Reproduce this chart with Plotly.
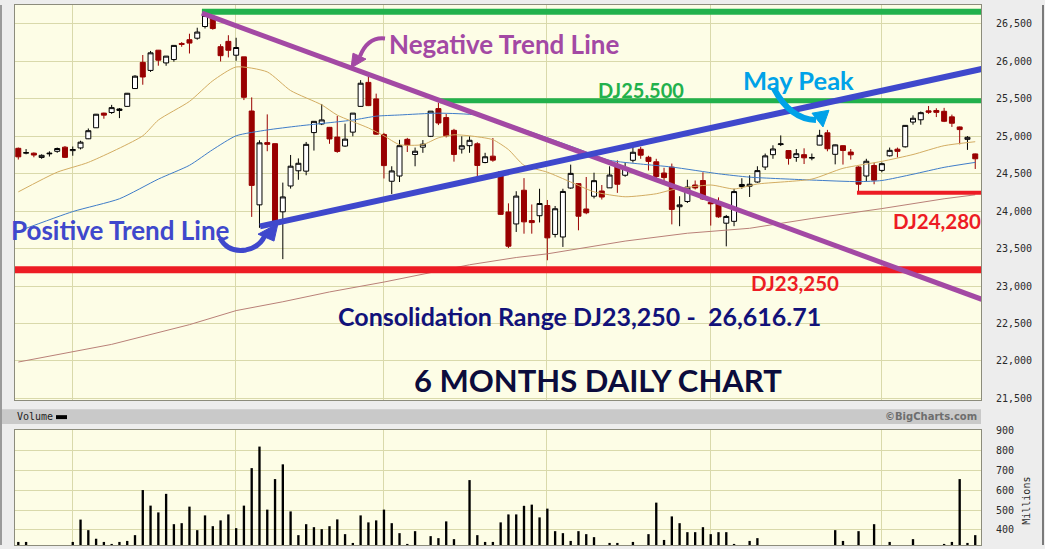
import plotly.graph_objects as go

# ---------------- data ----------------
DATES = [
    "2017-12-20", "2017-12-21", "2017-12-22", "2017-12-26", "2017-12-27", "2017-12-28", "2017-12-29",
    "2018-01-02", "2018-01-03", "2018-01-04", "2018-01-05", "2018-01-08", "2018-01-09", "2018-01-10",
    "2018-01-11", "2018-01-12", "2018-01-16", "2018-01-17", "2018-01-18", "2018-01-19", "2018-01-22",
    "2018-01-23", "2018-01-24", "2018-01-25", "2018-01-26", "2018-01-29", "2018-01-30", "2018-01-31",
    "2018-02-01", "2018-02-02", "2018-02-05", "2018-02-06", "2018-02-07", "2018-02-08", "2018-02-09",
    "2018-02-12", "2018-02-13", "2018-02-14", "2018-02-15", "2018-02-16", "2018-02-20", "2018-02-21",
    "2018-02-22", "2018-02-23", "2018-02-26", "2018-02-27", "2018-02-28",
    "2018-03-01", "2018-03-02", "2018-03-05", "2018-03-06", "2018-03-07", "2018-03-08", "2018-03-09",
    "2018-03-12", "2018-03-13", "2018-03-14", "2018-03-15", "2018-03-16", "2018-03-19", "2018-03-20",
    "2018-03-21", "2018-03-22", "2018-03-23", "2018-03-26", "2018-03-27", "2018-03-28", "2018-03-29",
    "2018-04-02", "2018-04-03", "2018-04-04", "2018-04-05", "2018-04-06", "2018-04-09", "2018-04-10",
    "2018-04-11", "2018-04-12", "2018-04-13", "2018-04-16", "2018-04-17", "2018-04-18", "2018-04-19",
    "2018-04-20", "2018-04-23", "2018-04-24", "2018-04-25", "2018-04-26", "2018-04-27", "2018-04-30",
    "2018-05-01", "2018-05-02", "2018-05-03", "2018-05-04", "2018-05-07", "2018-05-08", "2018-05-09",
    "2018-05-10", "2018-05-11", "2018-05-14", "2018-05-15", "2018-05-16", "2018-05-17", "2018-05-18",
    "2018-05-21", "2018-05-22", "2018-05-23", "2018-05-24", "2018-05-25", "2018-05-29", "2018-05-30",
    "2018-05-31",
    "2018-06-01", "2018-06-04", "2018-06-05", "2018-06-06", "2018-06-07", "2018-06-08", "2018-06-11",
    "2018-06-12", "2018-06-13", "2018-06-14", "2018-06-15", "2018-06-18", "2018-06-19",
]

OPEN = [
    24840, 24775, 24775, 24718, 24766, 24800, 24855,
    24809, 24845, 24967, 25114, 25310, 25318, 25345, 25400, 25638, 25988, 25880, 26150, 25980, 26025,
    26240, 26290, 26310, 26466, 26584, 26197, 26268,
    26083, 26061, 25338, 24085, 24916, 24902, 23992, 24337, 24540, 24535, 25050, 25165, 25120, 24990,
    24870, 25056, 25400, 25720, 25500,
    25025, 24400, 24470, 24960, 24757, 24855, 25000, 25370, 25250, 25080, 24830, 24875, 24900, 24650,
    24735, 24525, 23990, 23830, 24280, 23875, 23940,
    24076, 23690, 23656, 24310, 24368, 24030, 24200, 24270, 24312, 24590, 24480, 24680, 24827, 24720,
    24660, 24510, 24588, 24060, 24130, 24350, 24410,
    24117, 24097, 23840, 23865, 24330, 24334, 24390, 24590, 24755, 24890, 24810, 24718, 24755, 24710,
    24883, 25047, 24760, 24875, 24790, 24590, 24470, 24610,
    24545, 24740, 24828, 24860, 25190, 25221, 25340, 25345, 25334, 25260, 25125, 24960, 24765,
]
HIGH = [
    24850, 24830, 24785, 24760, 24800, 24850, 24870,
    24864, 24941, 25105, 25299, 25316, 25420, 25378, 25579, 25816, 26086, 26140, 26153, 26072, 26215,
    26258, 26370, 26450, 26630, 26608, 26230, 26350,
    26316, 26061, 25520, 24947, 25293, 24903, 24382, 24751, 24705, 24925, 25200, 25432, 25125, 25273,
    25169, 25310, 25750, 25800, 25570,
    25046, 24600, 24953, 24979, 24850, 24950, 25336, 25450, 25300, 25100, 25000, 25000, 24920, 24780,
    24977, 24525, 24105, 24267, 24442, 24090, 24300,
    24150, 24070, 24300, 24622, 24370, 24457, 24514, 24350, 24600, 24680, 24650, 24858, 24860, 24740,
    24700, 24580, 24636, 24200, 24420, 24410, 24520,
    24120, 24185, 23950, 24300, 24440, 24479, 24600, 24770, 24880, 25012, 24812, 24830, 24840, 24770,
    25087, 25086, 24890, 24880, 24830, 24600, 24700, 24650,
    24650, 24850, 24850, 25150, 25280, 25331, 25405, 25375, 25380, 25290, 25130, 25003, 24770,
]
LOW = [
    24690, 24760, 24720, 24700, 24730, 24780, 24710,
    24741, 24825, 24963, 25112, 25235, 25299, 25243, 25396, 25635, 25689, 25860, 25943, 25942, 25997,
    26196, 26106, 26290, 26440, 26424, 26000, 26054,
    26009, 25484, 23924, 23778, 24801, 23849, 23360, 24302, 24420, 24480, 24810, 25150, 24900, 24780,
    24860, 25000, 25395, 25404, 25020,
    24437, 24230, 24390, 24791, 24600, 24780, 24990, 25150, 24985, 24662, 24770, 24780, 24450, 24640,
    24660, 23950, 23509, 23723, 23700, 23700, 23850,
    23345, 23650, 23523, 24300, 23745, 23960, 24171, 24156, 24310, 24245, 24460, 24650, 24700, 24544,
    24421, 24400, 23824, 23800, 24110, 24290, 24150,
    23808, 23912, 23531, 23800, 24300, 24190, 24380, 24550, 24700, 24870, 24622, 24660, 24630, 24680,
    24880, 24800, 24626, 24623, 24690, 24250, 24400, 24360,
    24520, 24730, 24718, 24850, 25155, 25155, 25300, 25257, 25190, 25125, 24893, 24819, 24564,
]
CLOSE = [
    24726, 24782, 24750, 24746, 24774, 24837, 24719,
    24824, 24922, 25075, 25295, 25283, 25383, 25365, 25575, 25803, 25792, 26115, 26017, 26071, 26214,
    26228, 26245, 26392, 26616, 26439, 26077, 26149,
    26186, 25521, 24345, 24913, 24893, 23860, 24191, 24601, 24640, 24893, 25200, 25219, 24965, 24798,
    24962, 25310, 25709, 25410, 25029,
    24609, 24538, 24875, 24884, 24801, 24895, 25336, 25178, 25007, 24758, 24874, 24947, 24611, 24727,
    24682, 23958, 23533, 24202, 23858, 23848, 24103,
    23644, 24033, 24264, 24505, 23933, 23979, 24408, 24189, 24483, 24360, 24573, 24787, 24748, 24665,
    24463, 24449, 24024, 24084, 24322, 24311, 24163,
    24099, 23925, 23930, 24262, 24357, 24360, 24542, 24739, 24831, 24899, 24706, 24768, 24713, 24715,
    25013, 24834, 24886, 24811, 24753, 24361, 24667, 24415,
    24635, 24813, 24799, 25146, 25241, 25316, 25322, 25320, 25201, 25175, 25090, 24987, 24700,
]
VOLUME = [  # millions
    340, 340, 290, 210, 220, 250, 280,
    340, 452, 399, 356, 340, 330, 340, 345, 374, 600, 522, 488, 581, 429,
    434, 517, 399, 473, 419, 448, 478,
    409, 522, 710, 818, 502, 655, 729, 493, 374, 429, 414, 404, 419, 453,
    379, 335, 473, 438, 448,
    502, 434, 384, 330, 394, 310, 369, 359, 443, 354, 315, 650, 374, 340,
    340, 438, 478, 478, 521, 527, 463,
    507, 394, 384, 345, 394, 379, 364, 310, 335, 335, 310, 340, 315, 379,
    537, 350, 468, 434, 389, 389, 414,
    379, 389, 389, 330, 300, 345, 359, 300, 290, 280, 310, 300, 290, 300,
    310, 320, 399, 345, 290, 394, 320, 429,
    320, 340, 310, 320, 354, 300, 280, 300, 330, 340, 655, 335, 374,
]

# moving averages: (day index, value)
MA20_IDX = [0, 5, 9, 16, 18, 22, 25, 28, 32, 35, 39, 41, 45, 47, 49, 52, 54, 56, 58, 61, 63, 65, 68,
            71, 74, 78, 82, 84, 89, 92, 95, 102, 106, 111, 115, 119, 123]
MA20_VAL = [24258, 24521, 24652, 25007, 25217, 25466, 25742, 25926, 25860, 25611, 25420, 25283, 25112,
            25007, 24889, 24889, 24980, 25020, 25007, 24955, 24823, 24613, 24521,
            24390, 24259, 24193, 24233, 24285, 24350, 24297, 24363, 24429, 24573, 24666, 24757, 24875, 24928]
MA50_IDX = [0, 7, 13, 18, 22, 25, 28, 32, 36, 43, 46, 49, 54, 59, 63, 68, 72, 76, 80, 84, 90, 94,
            102, 108, 111, 115, 119, 123]
MA50_VAL = [23733, 23995, 24166, 24429, 24613, 24823, 25007, 25085, 25138, 25217, 25269, 25285, 25309,
            25283, 25160, 24980, 24830, 24680, 24630, 24590, 24500, 24455,
            24416, 24395, 24410, 24494, 24586, 24652]
MA200_IDX = [0, 7, 12, 22, 28, 34, 40, 47, 53, 58, 64, 68, 78, 86, 94, 102, 111, 119, 123]
MA200_VAL = [21986, 22121, 22222, 22485, 22673, 22791, 22922, 23054, 23185, 23285, 23382, 23431, 23601,
             23706, 23772, 23903, 24035, 24166, 24219]

VOL_TICKS = [400, 500, 600, 700, 800, 900]

# hand-drawn levels and trend lines as they sit on the picture
TOP_LEVEL = 26665          # consolidation top (26,616.71)
RESIST_LEVEL = 25476       # DJ25,500
SUPPORT_LOW = 23220        # DJ23,250
SUPPORT_MID = 24245        # DJ24,280
NEG_TREND = [(23.6, 26644), (123.83, 22824)]
POS_TREND = [(31.07, 23798), (123.83, 25900)]

# ---------------- figure ----------------
W, H = 1045, 549
X_LEFT, X_RIGHT = 15, 981
PRICE_TOP, PRICE_BOT = 0, 402
VOL_TOP = 432


def px(x):
    return x / W


def py(y):
    return 1 - y / H


xs = list(range(len(DATES)))
month_starts = [i for i in range(1, len(DATES)) if DATES[i][5:7] != DATES[i - 1][5:7]]

BG_PLOT = "#fdfde6"
GRID = "#d9d9ab"
AXLINE = "#8c8c7c"

fig = go.Figure()

fig.add_trace(go.Scatter(x=MA200_IDX, y=MA200_VAL, mode="lines",
                         line=dict(color="#b98078", width=1), xaxis="x", yaxis="y",
                         hoverinfo="skip", showlegend=False))
fig.add_trace(go.Scatter(x=MA50_IDX, y=MA50_VAL, mode="lines",
                         line=dict(color="#3f7cc8", width=1, shape="spline", smoothing=0.6),
                         xaxis="x", yaxis="y", hoverinfo="skip", showlegend=False))
fig.add_trace(go.Scatter(x=MA20_IDX, y=MA20_VAL, mode="lines",
                         line=dict(color="#d2ac62", width=1, shape="spline", smoothing=0.6),
                         xaxis="x", yaxis="y", hoverinfo="skip", showlegend=False))

fig.add_trace(go.Candlestick(
    x=xs, open=OPEN, high=HIGH, low=LOW, close=CLOSE,
    increasing=dict(fillcolor="white", line=dict(color="black", width=1)),
    decreasing=dict(fillcolor="#990000", line=dict(color="#990000", width=1)),
    whiskerwidth=0, xaxis="x", yaxis="y", showlegend=False))

fig.add_trace(go.Bar(x=xs, y=VOLUME, width=0.3, marker=dict(color="black", line=dict(width=0)),
                     xaxis="x2", yaxis="y2", showlegend=False))

x_rng = [(X_LEFT - 18.3) / 7.78, (X_RIGHT - 18.3) / 7.78]

axis_common = dict(showgrid=True, gridcolor=GRID, gridwidth=1, zeroline=False,
                   showline=True, linecolor=AXLINE, linewidth=1, mirror=True)

fig.update_layout(
    width=W, height=H,
    margin=dict(l=0, r=0, t=0, b=0),
    paper_bgcolor="#ededed",
    plot_bgcolor=BG_PLOT,
    showlegend=False,
    boxgap=0.2, boxgroupgap=0.2,
    xaxis=dict(domain=[px(X_LEFT), px(X_RIGHT)], range=x_rng, anchor="y",
               tickvals=[m - 0.05 for m in month_starts], showticklabels=False, ticks="",
               rangeslider=dict(visible=False), **axis_common),
    yaxis=dict(domain=[py(PRICE_BOT), py(PRICE_TOP)], range=[21473.7, 26753.5], side="right",
               anchor="x", tickvals=list(range(21500, 27000, 500)), tickformat=",d",
               ticks="", ticklabelstandoff=12,
               tickfont=dict(family="DejaVu Sans Mono", size=10, color="#2a2a2a"), **axis_common),
    xaxis2=dict(domain=[px(X_LEFT), px(X_RIGHT)], range=x_rng, anchor="y2", matches="x",
                tickvals=[m - 0.05 for m in month_starts], showticklabels=False, ticks="",
                **axis_common),
    yaxis2=dict(domain=[0, py(VOL_TOP)], range=[324.6, 901.5], side="right", anchor="x2",
                tickvals=VOL_TICKS, ticks="", ticklabelstandoff=12,
                tickfont=dict(family="DejaVu Sans Mono", size=10, color="#2a2a2a"), **axis_common),
)

shapes = []
# volume header band
shapes.append(dict(type="rect", xref="paper", yref="paper", x0=0, x1=px(X_RIGHT),
                   y0=py(426), y1=py(411), fillcolor="#c9c9c9", line=dict(width=0), layer="below"))
shapes.append(dict(type="rect", xref="paper", yref="paper", x0=px(56), x1=px(67),
                   y0=py(421), y1=py(417), fillcolor="black", line=dict(width=0)))
# outer frame lines
shapes.append(dict(type="line", xref="paper", yref="paper", x0=px(1), x1=px(1), y0=0, y1=1,
                   line=dict(color="#9a9a9a", width=2)))
shapes.append(dict(type="line", xref="paper", yref="paper", x0=px(1043), x1=px(1043), y0=0, y1=1,
                   line=dict(color="#7a7a7a", width=2)))

# hand-drawn levels
def hline(x0, x1, y, color, width):
    return dict(type="line", xref="x", yref="y", x0=x0, x1=x1, y0=y, y1=y,
                line=dict(color=color, width=width))

shapes.append(hline(23.6, 124.5, TOP_LEVEL, "#22b14c", 6))
shapes.append(hline(54.2, 124.5, RESIST_LEVEL, "#22b14c", 5))
shapes.append(hline(-1, 124.5, SUPPORT_LOW, "#ed1c24", 7))
shapes.append(hline(107.8, 124.5, SUPPORT_MID, "#ed1c24", 4))
shapes.append(dict(type="line", xref="x", yref="y", x0=NEG_TREND[0][0], y0=NEG_TREND[0][1],
                   x1=NEG_TREND[1][0], y1=NEG_TREND[1][1], line=dict(color="#a349a4", width=5)))
shapes.append(dict(type="line", xref="x", yref="y", x0=POS_TREND[0][0], y0=POS_TREND[0][1],
                   x1=POS_TREND[1][0], y1=POS_TREND[1][1], line=dict(color="#3f48cc", width=6)))


def path(cmds):
    out = []
    for c in cmds:
        if isinstance(c, str):
            out.append(c)
        else:
            out.append(f"{px(c[0]):.5f},{py(c[1]):.5f}")
    return " ".join(out)


def stroke(cmds, color, width):
    return dict(type="path", xref="paper", yref="paper", path=path(cmds),
                line=dict(color=color, width=width))


def tri(p1, p2, p3, color):
    return dict(type="path", xref="paper", yref="paper",
                path=path(["M", p1, "L", p2, "L", p3, "Z"]), fillcolor=color,
                line=dict(color=color, width=1))

# negative trend arrow (purple)
shapes.append(stroke(["M", (385, 34), "Q", (368, 32), (360, 52)], "#a349a4", 4))
shapes.append(tri((351, 64), (353, 49), (366, 55), "#a349a4"))
# may peak arrow (turquoise)
shapes.append(stroke(["M", (774, 85), "Q", (790, 116), (816, 117)], "#00a2e8", 6))
shapes.append(tri((812, 110), (829, 107), (823, 124), "#00a2e8"))
# positive trend arrow (blue)
shapes.append(stroke(["M", (220, 237), "Q", (228, 252), (246, 249), "Q", (260, 246), (265, 234)],
                     "#3f48cc", 5))
shapes.append(tri((258, 233), (278, 222), (274, 240), "#3f48cc"))

fig.update_layout(shapes=shapes)


def ann(text, x, y, size, color, family="Lato", bold=True, xanchor="left", angle=0):
    t = f"<b>{text}</b>" if bold else text
    return dict(text=t, xref="paper", yref="paper", x=px(x), y=py(y), xanchor=xanchor,
                yanchor="middle", showarrow=False, textangle=angle,
                font=dict(family=family, size=size, color=color))

annotations = [
    ann("Negative Trend Line", 387, 40, 26, "#a349a4"),
    ann("DJ25,500", 596, 86.5, 20, "#22b14c"),
    ann("May Peak", 741, 76.5, 25.5, "#00a2e8"),
    ann("Positive Trend Line", 9, 229, 26, "#3f48cc"),
    ann("DJ24,280", 891, 220, 20.5, "#ed1c24"),
    ann("DJ23,250", 749, 283, 20.5, "#ed1c24"),
    ann("Consolidation Range DJ23,250 -  26,616.71", 336, 316.5, 25, "#12127a"),
    ann("6 MONTHS DAILY CHART", 412, 381.5, 31, "#0c0c3c"),
    ann("Volume", 15, 418.5, 10, "#222222", family="DejaVu Sans Mono", bold=False),
    ann("©BigCharts.com", 979, 418.5, 10, "#6e6e6e", family="DejaVu Sans", xanchor="right"),
    ann("Millions", 1027, 504, 10, "#2a2a2a", family="DejaVu Sans Mono", bold=False,
        xanchor="center", angle=-90),
]
fig.update_layout(annotations=annotations)

fig.write_html("out.html", config={"displayModeBar": False},
               post_script="document.body.style.margin='0px';")
